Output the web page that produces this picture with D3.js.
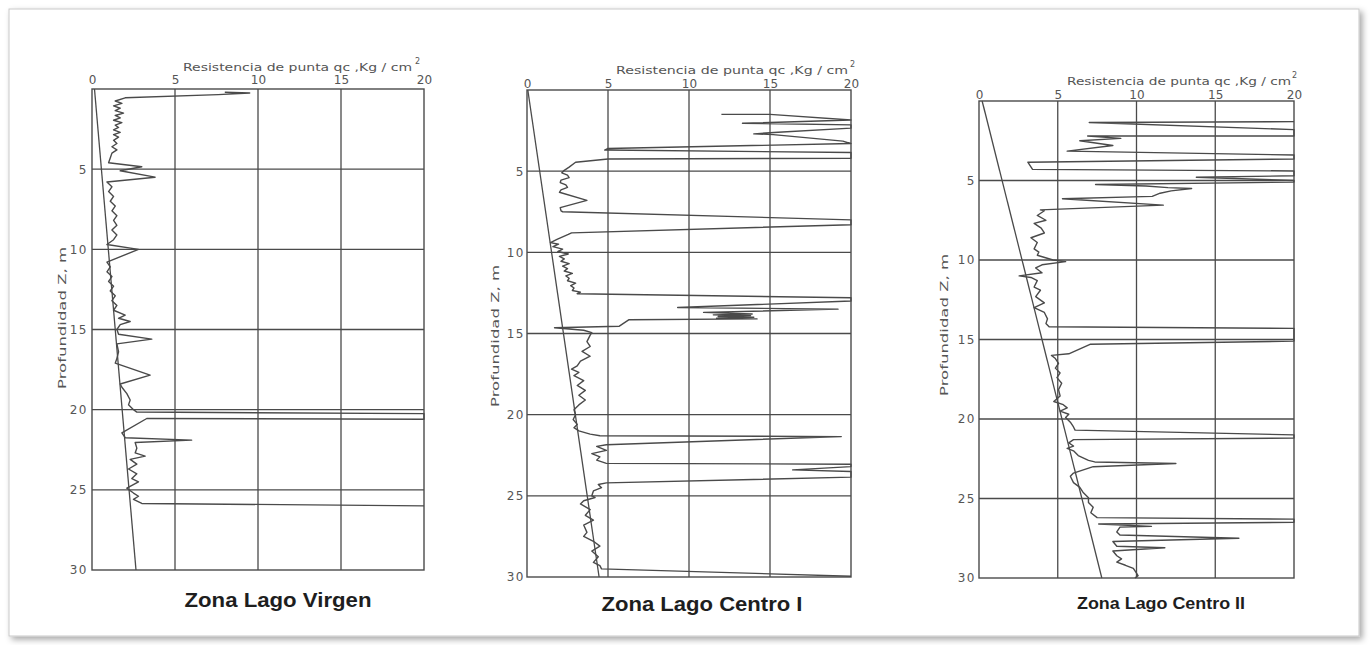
<!DOCTYPE html>
<html>
<head>
<meta charset="utf-8">
<script src="https://cdn.jsdelivr.net/npm/d3@7"></script>
<style>
body{margin:0;background:#fff;}
svg{display:block;}
.tick text{fill:#555;font-family:"DejaVu Sans",sans-serif;}
</style>
</head>
<body>
<svg width="1371" height="645"></svg>
<script>
// datos: [profundidad m, qc Kg/cm2]
var xTicks = [0, 5, 10, 15, 20];
var yTicks = [5, 10, 15, 20, 25, 30];
var gridX = [5, 10, 15];
var gridY = [5, 10, 15, 20, 25];
var panelNames = ["Zona Lago Virgen", "Zona Lago Centro I", "Zona Lago Centro II"];
var xTitle = "Resistencia de punta qc ,Kg / cm";
var yTitle = "Profundidad Z, m";

var refVirgen = [[0, 0.15], [30, 2.65]];
var refCentroI = [[0, 0.05], [30, 4.45]];
var refCentroII = [[0, 0.2], [30, 7.8]];

var virgenQc = [[0.2,8.0],[0.25,9.5],[0.35,7.6],[0.55,2.0],[0.75,1.4],[0.9,1.8],[1.05,1.3],[1.2,1.7],[1.35,1.4],[1.5,1.9],
  [1.65,1.4],[1.8,1.7],[1.95,1.3],[2.1,1.8],[2.25,1.4],[2.4,1.6],[2.55,1.3],[2.7,1.7],[2.85,1.3],[3.0,1.6],[3.2,1.3],
  [3.4,1.5],[3.6,1.2],[3.8,1.5],[4.0,1.2],[4.3,1.1],[4.6,1.0],[4.85,3.0],[5.1,1.7],[5.5,3.8],[5.8,0.9],[6.1,1.2],
  [6.4,1.0],[6.7,1.3],[7.0,1.1],[7.3,1.4],[7.6,1.2],[7.9,1.5],[8.2,1.3],[8.5,1.5],[8.8,1.2],[9.1,1.5],[9.4,1.3],
  [9.7,0.9],[10.0,2.8],[10.8,0.9],[11.1,1.1],[11.4,0.9],[11.7,1.2],[12.0,1.0],[12.3,1.3],[12.6,1.1],[12.9,1.4],
  [13.2,1.2],[13.5,1.5],[13.8,1.3],[14.1,2.0],[14.3,1.6],[14.5,2.3],[14.7,1.7],[15.0,1.5],[15.3,1.6],[15.6,3.6],
  [15.9,1.5],[16.4,1.6],[16.8,1.5],[17.1,1.4],[17.85,3.5],[18.4,1.7],[18.6,1.8],[19.0,2.1],[19.4,2.3],[19.7,2.2],
  [20.0,2.5],[20.15,2.7],[20.25,20],[20.6,20],[20.55,3.3],[21.45,1.8],[21.75,2.0],[21.9,6.0],[22.05,2.6],[22.4,2.7],
  [22.7,2.6],[22.9,3.2],[23.1,2.3],[23.4,2.7],[23.7,2.2],[24.0,2.7],[24.3,2.4],[24.5,2.8],[24.9,2.1],[25.2,2.5],
  [25.4,2.8],[25.6,2.5],[25.85,3.0],[26.0,20]];

var centroIQc = [[1.5,12.0],[1.5,15.0],[1.85,20],[2.05,13.3],[2.15,20],[2.35,20],[2.6,15.5],[2.7,14.0],[2.75,15.2],
  [3.15,19.5],[3.3,20],[3.6,5.0],[3.7,4.8],[3.85,20],[4.2,20],[4.25,5.0],[4.45,3.0],[4.75,2.6],[4.95,2.3],[5.1,2.15],
  [5.25,2.5],[5.4,2.6],[5.55,2.1],[5.7,2.05],[5.85,2.4],[6.0,2.5],[6.15,2.1],[6.3,2.0],[6.8,3.7],[7.25,2.05],[7.45,2.1],
  [7.5,2.2],[8.0,20],[8.3,20],[8.8,2.75],[8.9,2.55],[9.2,1.85],[9.4,1.45],[9.5,1.95],[9.65,1.6],[9.8,2.2],[9.95,1.9],
  [10.1,2.55],[10.25,2.0],[10.4,2.3],[10.55,2.1],[10.7,2.6],[10.85,2.2],[11.0,2.5],[11.15,2.3],[11.3,2.8],[11.45,2.4],
  [11.6,2.6],[11.75,2.5],[11.9,3.0],[12.05,2.7],[12.2,2.9],[12.35,2.8],[12.45,3.3],[12.55,3.1],[12.8,20],[13.0,20],
  [13.4,9.3],[13.5,19.2],[13.7,10.9],[13.8,13.9],[13.85,11.5],[13.9,13.8],[13.95,11.8],[14.0,14.0],[14.05,11.7],
  [14.1,14.2],[14.15,6.3],[14.55,5.7],[14.65,1.7],[14.8,3.5],[14.95,4.0],[15.1,3.9],[15.5,3.7],[15.8,3.9],[16.1,3.4],
  [16.4,3.9],[16.7,3.3],[17.0,3.1],[17.2,2.75],[17.4,3.2],[17.6,2.9],[17.9,3.5],[18.2,3.1],[18.5,3.6],[18.8,3.2],
  [19.1,3.6],[19.4,3.2],[19.7,2.9],[20.0,3.0],[20.3,2.85],[20.6,3.1],[20.8,2.9],[21.0,3.2],[21.2,3.9],[21.3,4.5],
  [21.35,19.4],[21.85,4.9],[21.95,4.3],[22.2,4.9],[22.4,4.0],[22.6,4.5],[22.8,4.3],[23.0,4.9],[23.05,20],[23.2,20],
  [23.4,16.4],[23.5,20],[23.85,20],[24.2,4.9],[24.3,4.4],[24.5,4.6],[24.7,4.1],[25.0,4.0],[25.1,4.2],[25.3,3.5],
  [25.5,3.3],[25.85,3.9],[26.2,3.6],[26.5,4.1],[26.8,3.5],[27.25,3.7],[27.5,3.5],[27.8,4.1],[28.1,4.5],[28.4,4.0],
  [28.75,4.4],[29.1,4.1],[29.3,4.5],[29.5,4.6],[29.95,20]];

var centroIIQc = [[1.3,20],[1.35,7.0],[1.8,20],[2.2,20],[2.2,6.9],[2.35,9.0],[2.5,6.4],[2.8,8.5],[3.15,5.6],[3.4,20],
  [3.65,20],[3.85,3.1],[4.3,3.4],[4.4,20],[4.7,20],[4.8,13.8],[5.0,20],[5.1,20],[5.25,7.4],[5.35,10.6],[5.45,12.0],
  [5.5,13.5],[5.65,12.2],[5.8,11.5],[6.0,11.0],[6.15,5.3],[6.55,11.7],[6.85,3.9],[6.9,4.15],[7.2,3.7],[7.5,4.25],
  [7.7,3.5],[8.0,3.95],[8.3,4.15],[8.6,3.3],[8.9,3.7],[9.3,3.5],[9.5,3.8],[9.7,3.7],[10.0,4.7],[10.1,5.5],[10.3,4.0],
  [10.5,3.6],[10.8,4.0],[11.0,2.55],[11.1,3.3],[11.3,3.7],[11.7,3.5],[11.9,3.9],[12.3,3.6],[12.7,4.15],[13.0,3.5],
  [13.3,4.15],[13.7,4.35],[14.0,4.25],[14.2,4.45],[14.3,20],[15.1,20],[15.3,7.05],[15.9,5.7],[16.0,4.6],[16.2,4.85],
  [16.5,5.05],[16.8,4.85],[17.1,5.15],[17.4,4.95],[17.75,5.25],[18.15,5.05],[18.55,5.15],[18.9,4.75],[19.1,5.35],
  [19.3,5.6],[19.5,5.15],[19.7,5.7],[19.9,5.5],[20.2,5.8],[20.5,6.0],[20.7,6.1],[21.0,20],[21.2,20],[21.3,6.0],
  [21.5,5.7],[21.7,6.0],[21.85,5.6],[22.0,6.0],[22.3,6.3],[22.6,6.95],[22.7,7.35],[22.8,12.5],[23.0,7.25],[23.4,6.0],
  [23.6,5.8],[24.0,6.0],[24.3,6.4],[24.6,6.6],[24.95,6.95],[25.25,6.95],[25.55,7.25],[25.9,7.1],[26.2,7.5],[26.3,20],
  [26.5,20],[26.6,7.6],[26.75,10.95],[26.8,8.95],[27.1,8.75],[27.3,8.95],[27.5,16.5],[27.7,8.5],[28.0,8.75],
  [28.1,11.8],[28.3,8.5],[28.6,8.75],[28.8,9.05],[29.0,8.75],[29.2,9.3],[29.4,9.8],[29.7,10.0],[29.85,10.1],[30.0,9.9]];

var svg = d3.select("svg");

// marco con sombra
var defs = svg.append("defs");
defs.append("filter").attr("id", "shadow").attr("x", "-2%").attr("y", "-2%").attr("width", "104%").attr("height", "106%")
  .append("feDropShadow").attr("dx", 3).attr("dy", 3).attr("stdDeviation", 3).attr("flood-color", "#000").attr("flood-opacity", 0.35);

svg.append("rect")
  .attr("x", 9).attr("y", 9).attr("width", 1350).attr("height", 627)
  .attr("fill", "#fff").attr("stroke", "#c9c9c9").attr("stroke-width", 1)
  .style("filter", "url(#shadow)");

var panels = [
  {name: panelNames[0], data: virgenQc, ref: refVirgen, x0: 92, x1: 424, y0: 89, y1: 570,
   xPad: 5, yPad: 4, titleX: 183, titleY: 71, titleW: 229, supX: 415, ylabX: 66, ylabY: 318,
   nameX: 278, nameY: 607, nameSize: 20, nameW: 187},
  {name: panelNames[1], data: centroIQc, ref: refCentroI, x0: 527, x1: 851, y0: 90, y1: 577,
   xPad: 2, yPad: 2, titleX: 616, titleY: 74, titleW: 232, supX: 850, ylabX: 499, ylabY: 336,
   nameX: 702, nameY: 611, nameSize: 20, nameW: 201},
  {name: panelNames[2], data: centroIIQc, ref: refCentroII, x0: 979, x1: 1294, y0: 101, y1: 578,
   xPad: 2, yPad: 3, titleX: 1067, titleY: 85, titleW: 224, supX: 1292, ylabX: 948, ylabY: 325,
   nameX: 1161, nameY: 609, nameSize: 16, nameW: 168}
];

var ink = "#4a4a4a";

panels.forEach(function(p) {
  var x = d3.scaleLinear().domain([0, 20]).range([p.x0, p.x1]);
  var y = d3.scaleLinear().domain([0, 30]).range([p.y0, p.y1]);
  var g = svg.append("g");

  //cuadricula
  g.selectAll(".vgrid").data(gridX).enter().append("line")
    .attr("x1", function(d) { return x(d); }).attr("x2", function(d) { return x(d); })
    .attr("y1", p.y0).attr("y2", p.y1)
    .attr("stroke", ink).attr("stroke-width", 1.3);
  g.selectAll(".hgrid").data(gridY).enter().append("line")
    .attr("y1", function(d) { return y(d); }).attr("y2", function(d) { return y(d); })
    .attr("x1", p.x0).attr("x2", p.x1)
    .attr("stroke", ink).attr("stroke-width", 1.3);
  g.append("rect")
    .attr("x", p.x0).attr("y", p.y0).attr("width", p.x1 - p.x0).attr("height", p.y1 - p.y0)
    .attr("fill", "none").attr("stroke", ink).attr("stroke-width", 1.4);

  //ejes
  var ax = g.append("g").attr("transform", "translate(0," + p.y0 + ")")
    .call(d3.axisTop(x).tickValues(xTicks).tickSize(0).tickPadding(p.xPad));
  ax.select(".domain").remove();
  ax.selectAll("text").style("font-size", "12px");

  var ay = g.append("g").attr("transform", "translate(" + p.x0 + ",0)")
    .call(d3.axisLeft(y).tickValues(yTicks).tickSize(0).tickPadding(p.yPad));
  ay.select(".domain").remove();
  ay.selectAll("text").style("font-size", "12px").style("letter-spacing", "1.5px");

  //titulos de ejes
  g.append("text")
    .attr("x", p.titleX).attr("y", p.titleY)
    .attr("textLength", p.titleW).attr("lengthAdjust", "spacingAndGlyphs")
    .style("font-family", "'DejaVu Sans', sans-serif").style("font-size", "10.5px")
    .attr("fill", "#555").text(xTitle);
  g.append("text")
    .attr("x", p.supX).attr("y", p.titleY - 7)
    .style("font-family", "'DejaVu Sans', sans-serif").style("font-size", "8px")
    .attr("fill", "#555").text("2");
  g.append("text")
    .attr("transform", "translate(" + p.ylabX + "," + p.ylabY + ") rotate(-90)")
    .attr("text-anchor", "middle")
    .attr("textLength", 142).attr("lengthAdjust", "spacingAndGlyphs")
    .style("font-family", "'DejaVu Sans', sans-serif").style("font-size", "11px")
    .attr("fill", "#555").text(yTitle);

  //lineas
  var line = d3.line().x(function(d) { return x(d[1]); }).y(function(d) { return y(d[0]); });
  g.append("path").datum(p.ref).attr("d", line)
    .attr("fill", "none").attr("stroke", ink).attr("stroke-width", 1.3);
  g.append("path").datum(p.data).attr("d", line)
    .attr("fill", "none").attr("stroke", ink).attr("stroke-width", 1.4)
    .attr("stroke-linejoin", "round");

  //nombre de zona
  g.append("text")
    .attr("x", p.nameX).attr("y", p.nameY).attr("text-anchor", "middle")
    .attr("textLength", p.nameW).attr("lengthAdjust", "spacingAndGlyphs")
    .style("font-family", "'Liberation Sans', Arial, sans-serif").style("font-weight", "bold")
    .style("font-size", p.nameSize + "px").attr("fill", "#1e1e1e").text(p.name);
});
</script>
</body>
</html>
